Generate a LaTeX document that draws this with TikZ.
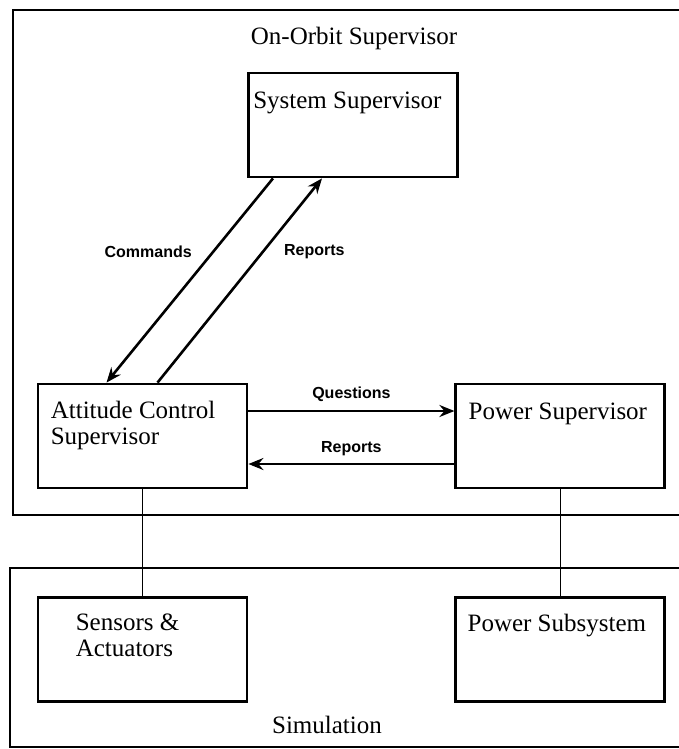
\documentclass[tikz,border=0pt]{standalone}
\usepackage{fontspec}
\setmainfont{Liberation Serif}
\setsansfont{Liberation Sans}
\usetikzlibrary{positioning, arrows.meta}

\tikzset{
    block/.style={draw, line width=2.8pt, minimum width=209pt, minimum height=104pt, inner sep=0pt},
    frame/.style={draw, line width=2.8pt, inner sep=0pt},
    boxtext/.style={font=\fontsize{25}{26}\selectfont, inner sep=0pt, align=left, anchor=base west},
    frametext/.style={font=\fontsize{25}{26}\selectfont, inner sep=0pt, anchor=base},
    msg/.style={font=\sffamily\bfseries\fontsize{16}{18}\selectfont, inner sep=0pt},
    flow/.style={line width=2.6pt, -{Stealth[length=15pt, width=12pt, inset=5pt]}},
    link/.style={line width=0.9pt}
}

\begin{document}
\begin{tikzpicture}[x=1pt, y=-1pt]
    \useasboundingbox (0,0) rectangle (678,749);

    % outer frames
    \node[frame, minimum width=687pt, minimum height=505pt] (orbit) at (356.5,262.5) {};
    \node[frame, minimum width=690pt, minimum height=179pt] (sim) at (355,657.5) {};
    \node[frametext] (orbitT) at (354,45) {On-Orbit Supervisor};
    \node[frametext] (simT) at (327,733) {Simulation};

    % supervisors
    \node[block] (sys) at (353,125) {};
    \node[block] (acs) at (142.5,436) {};
    \node[block, right=206pt of acs] (pws) {};

    % simulated hardware
    \node[block, below=107pt of acs] (sen) {};
    \node[block, below=107pt of pws] (sub) {};

    \node[boxtext] (sysT) at ([xshift=6pt, yshift=-37pt]sys.north west) {System Supervisor};
    \node[boxtext] (acsT) at ([xshift=14pt, yshift=-62pt]acs.north west) {Attitude Control\\Supervisor};
    \node[boxtext] (pwsT) at ([xshift=14pt, yshift=-37pt]pws.north west) {Power Supervisor};
    \node[boxtext] (senT) at ([xshift=39pt, yshift=-60pt]sen.north west) {Sensors \&\\Actuators};
    \node[boxtext] (subT) at ([xshift=13pt, yshift=-35pt]sub.north west) {Power Subsystem};

    \draw
        ([xshift=-80pt]sys.south) edge[flow] node[msg, pos=0.36, left=20pt] {Commands} ([xshift=-36pt]acs.north)
        ([xshift=15pt]acs.north) edge[flow] node[msg, pos=0.64, right=20pt] {Reports} ([xshift=-31pt]sys.south)
        ([yshift=25pt]acs.east) edge[flow] node[msg, above=8pt] {Questions} ([yshift=25pt]pws.west)
        ([yshift=-28pt]pws.west) edge[flow] node[msg, above=7pt] {Reports} ([yshift=-28pt]acs.east)
        (acs.south) edge[link] (sen.north)
        (pws.south) edge[link] (sub.north)
        ;
\end{tikzpicture}
\end{document}
